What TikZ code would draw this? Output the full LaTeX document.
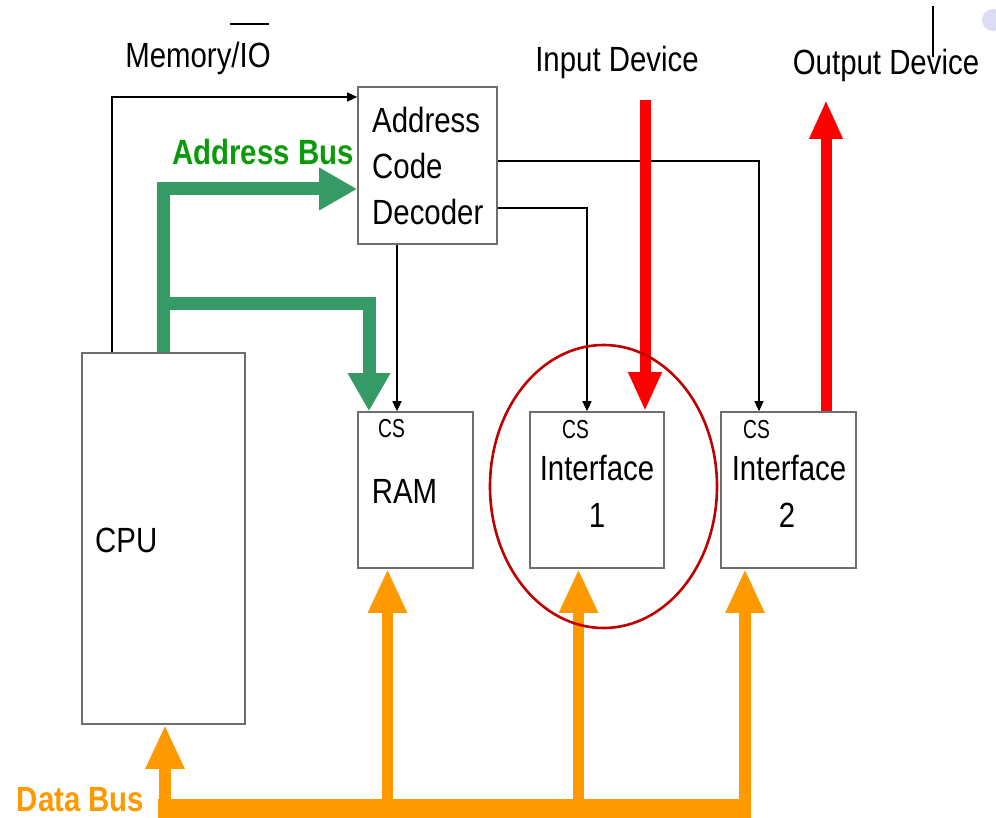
\documentclass[tikz,border=0pt]{standalone}
\usepackage{fontspec}
\setmainfont[FakeStretch=0.84]{Liberation Sans}
\newfontfamily\csfont[FakeStretch=0.74]{Liberation Sans}
\usetikzlibrary{arrows.meta,shapes.geometric}
\definecolor{busgreen}{HTML}{359A66}
\definecolor{labgreen}{HTML}{0A9A0A}
\definecolor{busorange}{HTML}{FF9900}
\definecolor{busred}{HTML}{FF0000}
\definecolor{ringred}{HTML}{C00000}
\definecolor{boxgray}{HTML}{6E6E6E}
\definecolor{blob}{HTML}{DCDCF2}
\begin{document}
\begin{tikzpicture}[x=1pt,y=-1pt,
  box/.style={draw=boxgray, line width=1.6pt, fill=white, inner sep=0pt},
  txt/.style={font=\fontsize{35}{42}\selectfont, inner sep=0pt, anchor=base},
  ltxt/.style={txt, anchor=base west},
  cstxt/.style={font=\csfont\fontsize{26}{30}\selectfont, inner sep=0pt, anchor=base west},
  sig/.style={line width=1.2pt, -{Triangle[length=10pt,width=9pt]}},
  gbus/.style={busgreen, line width=13pt, line join=miter, -{Triangle[length=38pt,width=40pt]}},
  rbus/.style={busred, line width=11pt, -{Triangle[length=39pt,width=31pt]}},
  obus/.style={busorange, line width=11.5pt, -{Triangle[length=44pt,width=36pt]}},
  oband/.style={busorange, line width=19pt},
]
\useasboundingbox (0,0) rectangle (996,818);
\fill[white] (0,0) rectangle (996,818);

% boxes
\node[box, minimum width=163pt, minimum height=371pt] (cpu) at (163.5,538.5) {};
\node[box, minimum width=139pt, minimum height=157pt] (dec) at (427.5,165.5) {};
\node[box, minimum width=115pt, minimum height=156pt] (ram) at (415.5,490) {};
\node[box, minimum width=134pt, minimum height=156pt] (if1) at (597,490) {};
\node[box, minimum width=135pt, minimum height=156pt] (if2) at (788.5,490) {};

% texts
\node[txt] (memio) at (198,68) {Memory/IO};
\coordinate (olA) at (230,24);
\coordinate (olB) at (269,24);
\draw[line width=1.4pt] (olA) -- (olB);
\node[txt, font=\fontsize{35}{42}\selectfont\bfseries, text=labgreen] (abus) at (263,165) {Address Bus};
\node[ltxt] (decA) at (372,133) {Address};
\node[ltxt] (decB) at (372,179) {Code};
\node[ltxt] (decC) at (372,225) {Decoder};
\node[txt] (indev) at (617,72) {Input Device};
\node[txt] (outdev) at (886,75) {Output Device};
\node[ltxt] (cputxt) at (95,552) {CPU};
\node[txt] (ramtxt) at (404.5,503) {RAM};
\node[cstxt] (cs0) at (378,437) {CS};
\node[cstxt] (cs1) at (562,438) {CS};
\node[cstxt] (cs2) at (743,438) {CS};
\node[txt] (if1a) at (597,480) {Interface};
\node[txt] (if1b) at (597,527) {1};
\node[txt] (if2a) at (789,480) {Interface};
\node[txt] (if2b) at (787,527) {2};
\node[txt, font=\fontsize{35}{42}\selectfont\bfseries, text=busorange] (dbus) at (80.5,811) {Data Bus};

% Memory/IO control line
\coordinate (mA) at (112,97);
\draw[sig] (cpu.north -| mA) -- (mA) -- (dec.west |- mA);

% decoder chip-select lines
\coordinate (d1) at (759,161);
\draw[sig] (dec.east |- d1) -- (d1) -- (if2.north -| d1);
\coordinate (d2) at (587,208);
\draw[sig] (dec.east |- d2) -- (d2) -- (if1.north -| d2);
\coordinate (d3) at (397,300);
\draw[sig] (dec.south -| d3) -- (ram.north -| d3);

% address bus
\coordinate (gA) at (163,189);
\coordinate (gB) at (163,304);
\coordinate (gC) at (369,304);
\draw[gbus] (cpu.north -| gA) -- (gA) -- (dec.west |- gA);
\draw[gbus] (gB) -- (gC) -- (ram.north -| gC);

% input / output devices
\coordinate (inTop) at (645,100);
\draw[rbus] (inTop) -- (if1.north -| inTop);
\coordinate (outTop) at (826,100);
\draw[rbus] (if2.north -| outTop) -- (outTop);

% data bus
\coordinate (bandL) at (158,808.5);
\coordinate (bandR) at (751,808.5);
\draw[oband] (bandL) -- (bandR);
\coordinate (oc) at (165,806);
\coordinate (orr) at (387.5,806);
\coordinate (o1) at (578.5,806);
\coordinate (o2) at (745,806);
\draw[obus] (oc) -- (cpu.south -| oc);
\draw[obus] (orr) -- (ram.south -| orr);
\draw[obus] (o1) -- (if1.south -| o1);
\draw[obus] (o2) -- (if2.south -| o2);

% highlight ring
\node[draw=ringred, line width=2.6pt, ellipse, minimum width=227pt, minimum height=283pt, inner sep=0pt] (ring) at (603.5,486.5) {};

% stray marks at top right
\coordinate (stA) at (933,6);
\coordinate (stB) at (933,57);
\draw[line width=1.3pt] (stA) -- (stB);
\fill[blob] (993,20) circle[radius=11pt];
\end{tikzpicture}
\end{document}
